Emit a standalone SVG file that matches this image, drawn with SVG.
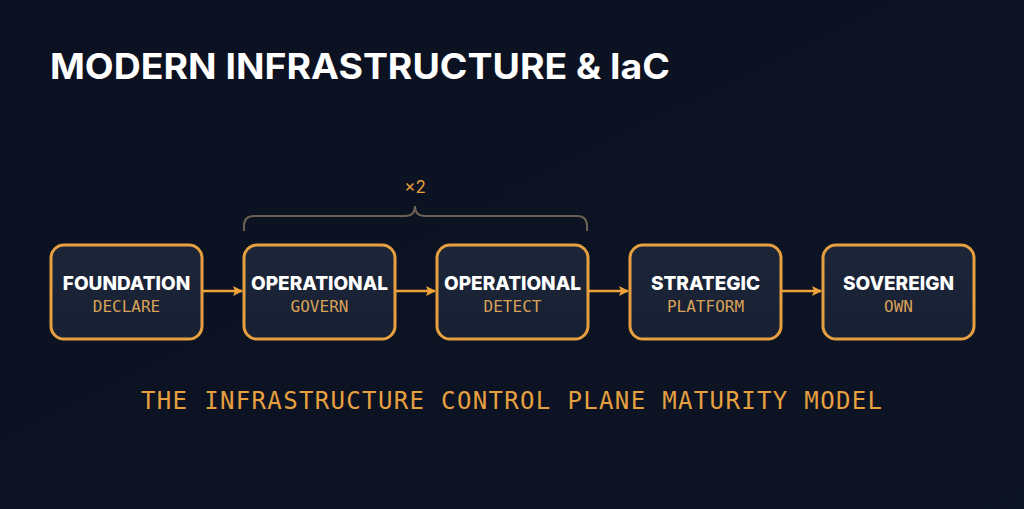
<svg xmlns="http://www.w3.org/2000/svg" width="1024" height="509" viewBox="0 0 1024 509">
<defs>
<linearGradient id="bg" x1="0" y1="0" x2="1" y2="1"><stop offset="0" stop-color="#0b1120"/><stop offset="1" stop-color="#0d1424"/></linearGradient>
<linearGradient id="box" x1="0" y1="0" x2="0" y2="1"><stop offset="0" stop-color="#1d2639"/><stop offset="1" stop-color="#182033"/></linearGradient>
<marker id="ah" markerWidth="10" markerHeight="10" refX="9" refY="5" orient="auto" markerUnits="userSpaceOnUse"><path d="M0,0 L10,5 L0,10 L2,5 Z" fill="#eea33a"/></marker>
<style>
.box{fill:url(#box);stroke:#e6a040;stroke-width:3}
.t{font-family:Inter,"Liberation Sans",sans-serif;font-weight:800;font-size:19px;fill:#ffffff;text-anchor:middle}
.s{font-family:"DejaVu Sans Mono","Liberation Mono",monospace;font-size:16px;fill:#d9a158;text-anchor:middle}
.c{stroke:#eea33a;stroke-width:2.5;fill:none}
</style>
</defs>
<rect width="1024" height="509" fill="url(#bg)"/>
<text x="50" y="79" font-family="Inter,'Liberation Sans',sans-serif" font-weight="700" font-size="35" fill="#ffffff" textLength="620" lengthAdjust="spacingAndGlyphs">MODERN INFRASTRUCTURE &amp; IaC</text>
<g id="brace">
<path d="M244,231 V226 Q244,216 254,216 H405 Q415,216 415,206 Q415,216 425,216 H577 Q587,216 587,226 V231" fill="none" stroke="#6b6253" stroke-width="2"/>
<text x="415" y="193" font-family="Inter,'Liberation Sans',sans-serif" font-size="17" fill="#e6a040" text-anchor="middle">×2</text>
</g>
<g id="connectors">
<line class="c" x1="203" y1="291" x2="242" y2="291" marker-end="url(#ah)"/>
<line class="c" x1="396" y1="291" x2="435" y2="291" marker-end="url(#ah)"/>
<line class="c" x1="589" y1="291" x2="628" y2="291" marker-end="url(#ah)"/>
<line class="c" x1="782" y1="291" x2="821" y2="291" marker-end="url(#ah)"/>
</g>
<g id="n1"><rect class="box" x="51" y="245" width="151" height="94" rx="13"/><text class="t" x="126.5" y="290">FOUNDATION</text><text class="s" x="126.5" y="312">DECLARE</text></g>
<g id="n2"><rect class="box" x="244" y="245" width="151" height="94" rx="13"/><text class="t" x="319.5" y="290">OPERATIONAL</text><text class="s" x="319.5" y="312">GOVERN</text></g>
<g id="n3"><rect class="box" x="437" y="245" width="151" height="94" rx="13"/><text class="t" x="512.5" y="290">OPERATIONAL</text><text class="s" x="512.5" y="312">DETECT</text></g>
<g id="n4"><rect class="box" x="630" y="245" width="151" height="94" rx="13"/><text class="t" x="705.5" y="290">STRATEGIC</text><text class="s" x="705.5" y="312">PLATFORM</text></g>
<g id="n5"><rect class="box" x="823" y="245" width="151" height="94" rx="13"/><text class="t" x="898.5" y="290">SOVEREIGN</text><text class="s" x="898.5" y="312">OWN</text></g>
<text x="141" y="409" font-family="'DejaVu Sans Mono','Liberation Mono',monospace" font-size="24" fill="#e6a040" textLength="741" lengthAdjust="spacing">THE INFRASTRUCTURE CONTROL PLANE MATURITY MODEL</text>
</svg>
